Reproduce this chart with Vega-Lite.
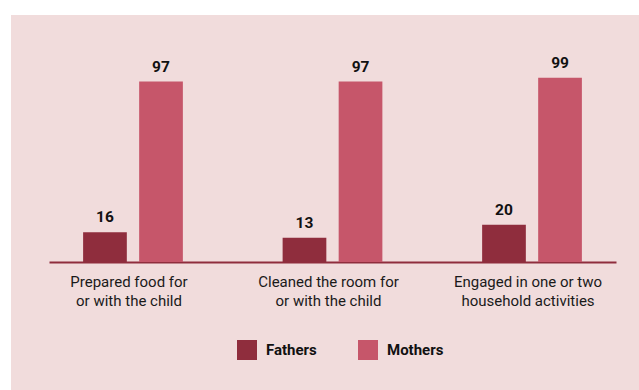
{
  "$schema": "https://vega.github.io/schema/vega-lite/v6.json",
  "width": 628,
  "height": 375,
  "autosize": {"type": "none"},
  "padding": {"left": 11, "top": 15, "right": 0, "bottom": 0},
  "background": "#ffffff",
  "config": {
    "view": {"fill": "#f1dcdc", "stroke": null},
    "font": "Roboto"
  },
  "data": {
    "values": [
      {"category": "Prepared food for\nor with the child", "group": "Fathers", "value": 16},
      {"category": "Prepared food for\nor with the child", "group": "Mothers", "value": 97},
      {"category": "Cleaned the room for\nor with the child", "group": "Fathers", "value": 13},
      {"category": "Cleaned the room for\nor with the child", "group": "Mothers", "value": 97},
      {"category": "Engaged in one or two\nhousehold activities", "group": "Fathers", "value": 20},
      {"category": "Engaged in one or two\nhousehold activities", "group": "Mothers", "value": 99}
    ]
  },
  "encoding": {
    "x": {
      "field": "category",
      "type": "nominal",
      "sort": null,
      "title": null,
      "scale": {"range": [38, 605], "paddingInner": 0.5, "paddingOuter": 0.171, "align": 0.5},
      "axis": {
        "offset": -128,
        "domainColor": "#8f2d3d",
        "domainWidth": 2,
        "ticks": false,
        "labelAngle": 0,
        "labelPadding": 12,
        "labelOffset": -4,
        "labelBaseline": "top",
        "labelFontSize": 15,
        "labelLineHeight": 19,
        "labelColor": "#1a1a1a",
        "labelExpr": "split(datum.label, '\\n')"
      }
    },
    "xOffset": {"field": "group", "type": "nominal", "scale": {"paddingInner": 0.22, "paddingOuter": 0}},
    "y": {
      "field": "value",
      "type": "quantitative",
      "axis": null,
      "scale": {"domain": [-68.8, 132.8], "nice": false, "zero": false}
    }
  },
  "layer": [
    {
      "mark": {"type": "bar"},
      "encoding": {
        "color": {
          "field": "group",
          "type": "nominal",
          "scale": {"domain": ["Fathers", "Mothers"], "range": ["#8f2d3d", "#c6566a"]},
          "legend": {
            "orient": "none",
            "legendX": 226,
            "legendY": 325,
            "direction": "horizontal",
            "title": null,
            "symbolType": "square",
            "symbolSize": 400,
            "symbolStrokeWidth": 0,
            "symbolOpacity": 1,
            "labelFontSize": 15,
            "labelFontWeight": "bold",
            "labelColor": "#111111",
            "labelOffset": 9,
            "columnPadding": 41
          }
        }
      }
    },
    {
      "mark": {"type": "text", "dy": -10, "baseline": "alphabetic", "fontSize": 15.5, "fontWeight": "bold", "color": "#111111"},
      "encoding": {
        "text": {"field": "value", "type": "quantitative"}
      }
    }
  ]
}
